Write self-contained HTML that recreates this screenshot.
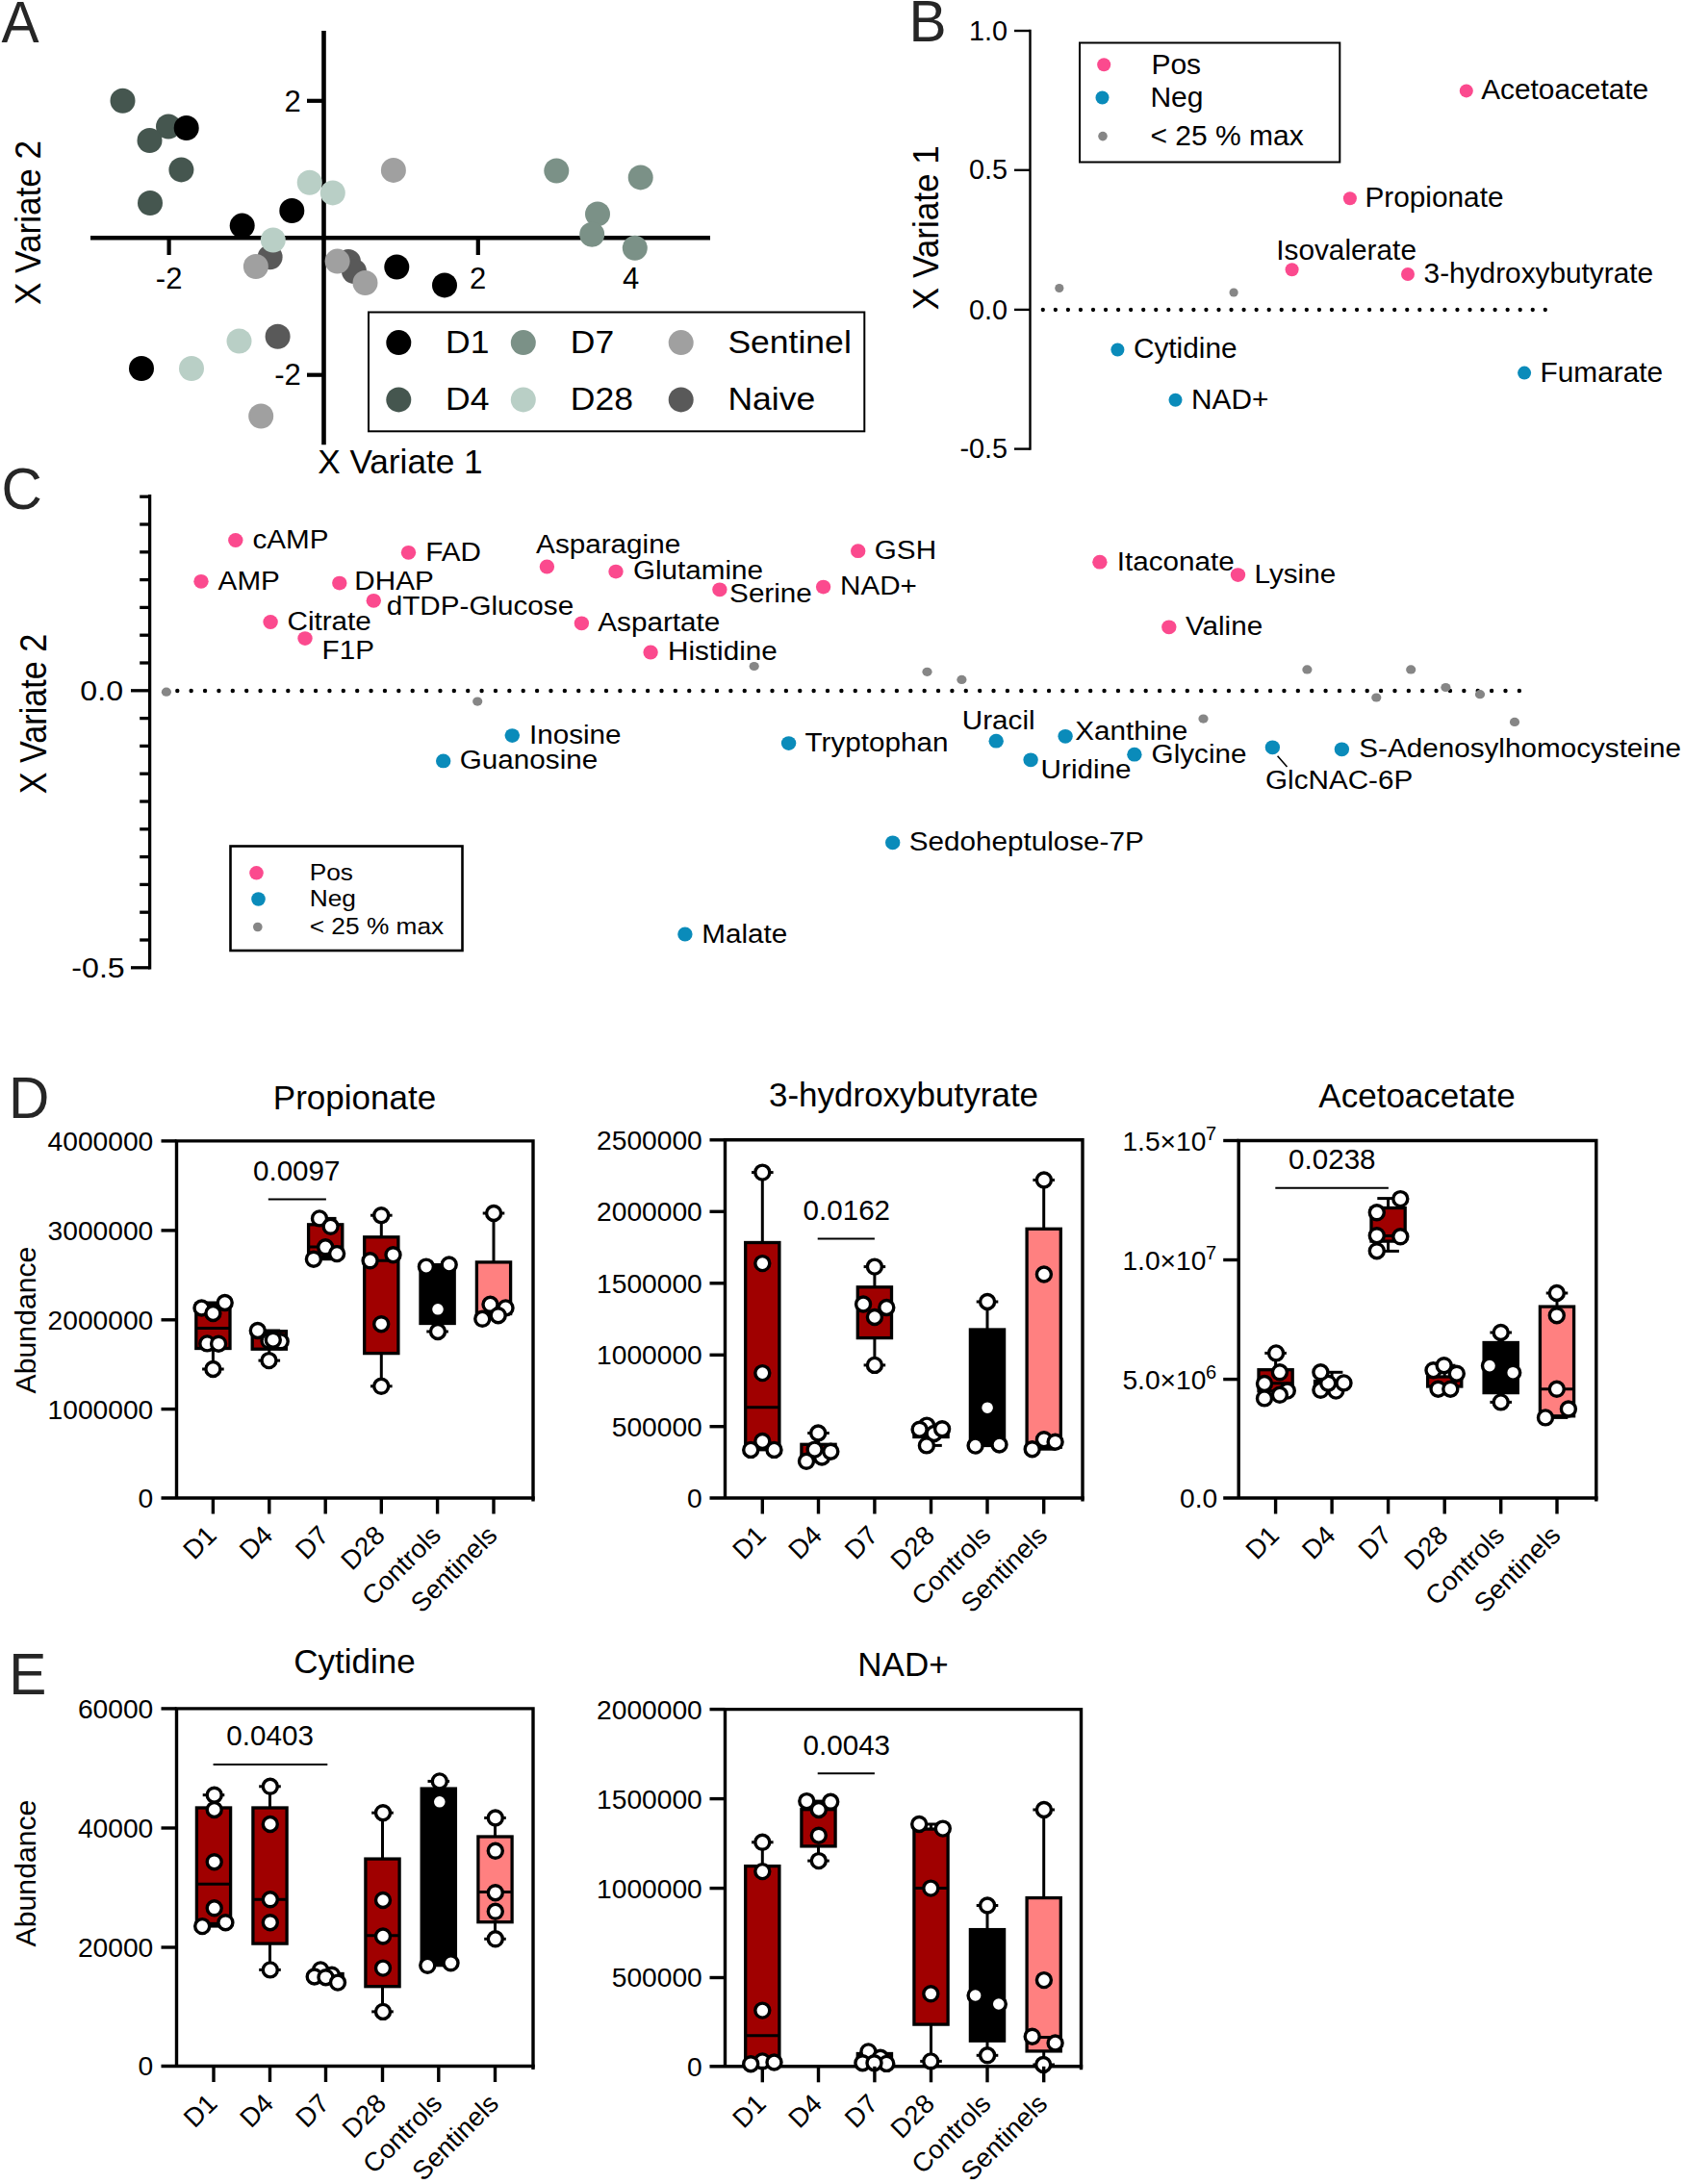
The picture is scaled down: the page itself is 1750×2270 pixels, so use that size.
<!DOCTYPE html>
<html lang="en">
<head>
<meta charset="utf-8">
<title>Figure</title>
<style>
html,body{margin:0;padding:0;background:#fff;}
body{width:1750px;height:2270px;overflow:hidden;}
svg{display:block;}
svg text{font-family:"Liberation Sans", Arial, sans-serif;}
</style>
</head>
<body>
<svg width="1750" height="2270" viewBox="0 0 1750 2270">
<rect x="0" y="0" width="1750" height="2270" fill="#ffffff"/>
<text transform="translate(1.4,43.5) scale(0.956,1)" font-size="61.3" text-anchor="start" fill="#262626">A</text>
<text transform="translate(944.6,43.4) scale(0.956,1)" font-size="61.3" text-anchor="start" fill="#262626">B</text>
<text transform="translate(1.4,528.6) scale(0.956,1)" font-size="61.3" text-anchor="start" fill="#262626">C</text>
<text transform="translate(9.0,1162.2) scale(0.956,1)" font-size="61.3" text-anchor="start" fill="#262626">D</text>
<text transform="translate(9.3,1761.3) scale(0.956,1)" font-size="61.3" text-anchor="start" fill="#262626">E</text>
<line x1="94.0" y1="247.2" x2="738.0" y2="247.2" stroke="#000" stroke-width="4.6" />
<line x1="336.5" y1="32.0" x2="336.5" y2="462.3" stroke="#000" stroke-width="4.6" />
<line x1="175.6" y1="247.2" x2="175.6" y2="265.0" stroke="#000" stroke-width="4.2" />
<line x1="496.8" y1="247.2" x2="496.8" y2="265.0" stroke="#000" stroke-width="4.2" />
<line x1="658.3" y1="247.2" x2="658.3" y2="265.0" stroke="#000" stroke-width="4.2" />
<line x1="319.0" y1="104.8" x2="336.5" y2="104.8" stroke="#000" stroke-width="4.2" />
<line x1="319.0" y1="389.7" x2="336.5" y2="389.7" stroke="#000" stroke-width="4.2" />
<text transform="translate(175.6,299.5)" font-size="31" text-anchor="middle" fill="#000">-2</text>
<text transform="translate(496.5,299.5)" font-size="31" text-anchor="middle" fill="#000">2</text>
<text transform="translate(655.5,299.5)" font-size="31" text-anchor="middle" fill="#000">4</text>
<text transform="translate(312.8,115.6)" font-size="31" text-anchor="end" fill="#000">2</text>
<text transform="translate(312.8,400.3)" font-size="31" text-anchor="end" fill="#000">-2</text>
<text transform="translate(330.2,492.2)" font-size="35.2" text-anchor="start" fill="#000">X Variate 1</text>
<text transform="translate(41.7,231.5) rotate(-90) scale(0.95,1)" font-size="37" text-anchor="middle" fill="#000">X Variate 2</text>
<circle cx="127.5" cy="104.8" r="13" fill="#45564f"/>
<circle cx="175.0" cy="131.5" r="13" fill="#45564f"/>
<circle cx="155.5" cy="146.0" r="13" fill="#45564f"/>
<circle cx="188.4" cy="176.4" r="13" fill="#45564f"/>
<circle cx="156.0" cy="211.0" r="13" fill="#45564f"/>
<circle cx="193.7" cy="133.0" r="13" fill="#000000"/>
<circle cx="408.9" cy="176.9" r="13" fill="#a0a0a0"/>
<circle cx="321.7" cy="189.7" r="13" fill="#b9cfc6"/>
<circle cx="345.8" cy="200.4" r="13" fill="#b9cfc6"/>
<circle cx="303.3" cy="219.0" r="13" fill="#000000"/>
<circle cx="251.7" cy="234.6" r="13" fill="#000000"/>
<circle cx="280.6" cy="267.3" r="13" fill="#595959"/>
<circle cx="265.9" cy="277.0" r="13" fill="#a0a0a0"/>
<circle cx="283.8" cy="249.5" r="13" fill="#b9cfc6"/>
<circle cx="362.0" cy="272.0" r="13" fill="#595959"/>
<circle cx="368.0" cy="282.0" r="13" fill="#595959"/>
<circle cx="350.6" cy="271.6" r="13" fill="#a0a0a0"/>
<circle cx="379.5" cy="294.0" r="13" fill="#a0a0a0"/>
<circle cx="412.3" cy="277.5" r="13" fill="#000000"/>
<circle cx="462.0" cy="296.4" r="13" fill="#000000"/>
<circle cx="248.5" cy="354.5" r="13" fill="#b9cfc6"/>
<circle cx="288.6" cy="349.7" r="13" fill="#595959"/>
<circle cx="147.0" cy="383.0" r="13" fill="#000000"/>
<circle cx="199.0" cy="383.0" r="13" fill="#b9cfc6"/>
<circle cx="271.2" cy="432.5" r="13" fill="#a0a0a0"/>
<circle cx="578.3" cy="177.5" r="13" fill="#7b9187"/>
<circle cx="665.7" cy="184.4" r="13" fill="#7b9187"/>
<circle cx="621.0" cy="222.4" r="13" fill="#7b9187"/>
<circle cx="615.2" cy="243.8" r="13" fill="#7b9187"/>
<circle cx="659.8" cy="257.7" r="13" fill="#7b9187"/>
<rect x="383.0" y="324.5" width="515.3" height="123.8" fill="#fff" stroke="#000" stroke-width="2"/>
<circle cx="414.3" cy="356.1" r="13" fill="#000000"/>
<text transform="translate(463.0,367.1) scale(1.045,1)" font-size="34" text-anchor="start" fill="#000">D1</text>
<circle cx="543.8" cy="356.1" r="13" fill="#7b9187"/>
<text transform="translate(592.8,367.1) scale(1.045,1)" font-size="34" text-anchor="start" fill="#000">D7</text>
<circle cx="707.7" cy="356.1" r="13" fill="#a0a0a0"/>
<text transform="translate(756.4,367.1) scale(1.045,1)" font-size="34" text-anchor="start" fill="#000">Sentinel</text>
<circle cx="414.3" cy="415.4" r="13" fill="#45564f"/>
<text transform="translate(463.0,426.4) scale(1.045,1)" font-size="34" text-anchor="start" fill="#000">D4</text>
<circle cx="543.8" cy="415.4" r="13" fill="#b9cfc6"/>
<text transform="translate(592.8,426.4) scale(1.045,1)" font-size="34" text-anchor="start" fill="#000">D28</text>
<circle cx="707.7" cy="415.4" r="13" fill="#595959"/>
<text transform="translate(756.4,426.4) scale(1.045,1)" font-size="34" text-anchor="start" fill="#000">Naive</text>
<line x1="1070.5" y1="30.8" x2="1070.5" y2="467.8" stroke="#000" stroke-width="2.4" />
<line x1="1054.0" y1="32.0" x2="1070.5" y2="32.0" stroke="#000" stroke-width="2.4" />
<text transform="translate(1047.0,41.6)" font-size="28.8" text-anchor="end" fill="#000">1.0</text>
<line x1="1054.0" y1="176.8" x2="1070.5" y2="176.8" stroke="#000" stroke-width="2.4" />
<text transform="translate(1047.0,186.4)" font-size="28.8" text-anchor="end" fill="#000">0.5</text>
<line x1="1054.0" y1="321.9" x2="1070.5" y2="321.9" stroke="#000" stroke-width="2.4" />
<text transform="translate(1047.0,331.5)" font-size="28.8" text-anchor="end" fill="#000">0.0</text>
<line x1="1054.0" y1="466.6" x2="1070.5" y2="466.6" stroke="#000" stroke-width="2.4" />
<text transform="translate(1047.0,476.2)" font-size="28.8" text-anchor="end" fill="#000">-0.5</text>
<text transform="translate(974.7,236.7) rotate(-90) scale(0.96,1)" font-size="36.6" text-anchor="middle" fill="#000">X Variate 1</text>
<line x1="1083.8" y1="322.0" x2="1609.0" y2="322.0" stroke="#000" stroke-width="4.3" stroke-dasharray="0 13.05" stroke-linecap="round"/>
<rect x="1122.0" y="44.5" width="270.3" height="124.0" fill="none" stroke="#000" stroke-width="2"/>
<circle cx="1147.2" cy="67.3" r="7" fill="#fb4a8e"/>
<text transform="translate(1196.4,76.5) scale(1.025,1)" font-size="29.3" text-anchor="start" fill="#000">Pos</text>
<circle cx="1145.5" cy="101.5" r="7" fill="#0a8bba"/>
<text transform="translate(1195.4,110.7) scale(1.025,1)" font-size="29.3" text-anchor="start" fill="#000">Neg</text>
<circle cx="1146.0" cy="141.6" r="4.8" fill="#868686"/>
<text transform="translate(1195.4,150.8) scale(1.025,1)" font-size="29.3" text-anchor="start" fill="#000">&lt; 25 % max</text>
<circle cx="1100.8" cy="299.5" r="4.6" fill="#868686"/>
<circle cx="1282.1" cy="304.0" r="4.6" fill="#868686"/>
<circle cx="1523.8" cy="94.4" r="7" fill="#fb4a8e"/>
<text transform="translate(1539.2,103.4)" font-size="29.8" text-anchor="start" fill="#000">Acetoacetate</text>
<circle cx="1402.9" cy="206.3" r="7" fill="#fb4a8e"/>
<text transform="translate(1418.4,215.1)" font-size="29.8" text-anchor="start" fill="#000">Propionate</text>
<circle cx="1342.6" cy="280.2" r="7" fill="#fb4a8e"/>
<text transform="translate(1326.2,270.0)" font-size="29.8" text-anchor="start" fill="#000">Isovalerate</text>
<circle cx="1463.0" cy="285.0" r="7" fill="#fb4a8e"/>
<text transform="translate(1479.6,293.5)" font-size="29.8" text-anchor="start" fill="#000">3-hydroxybutyrate</text>
<circle cx="1161.4" cy="363.5" r="7" fill="#0a8bba"/>
<text transform="translate(1177.9,372.4)" font-size="29.8" text-anchor="start" fill="#000">Cytidine</text>
<circle cx="1221.5" cy="415.7" r="7" fill="#0a8bba"/>
<text transform="translate(1238.0,425.0)" font-size="29.8" text-anchor="start" fill="#000">NAD+</text>
<circle cx="1584.1" cy="387.6" r="7" fill="#0a8bba"/>
<text transform="translate(1600.6,397.0)" font-size="29.8" text-anchor="start" fill="#000">Fumarate</text>
<line x1="155.6" y1="514.0" x2="155.6" y2="1007.4" stroke="#000" stroke-width="3.3" />
<line x1="145.2" y1="516.2" x2="155.6" y2="516.2" stroke="#000" stroke-width="3.3" />
<line x1="145.2" y1="545.0" x2="155.6" y2="545.0" stroke="#000" stroke-width="3.3" />
<line x1="145.2" y1="573.8" x2="155.6" y2="573.8" stroke="#000" stroke-width="3.3" />
<line x1="145.2" y1="602.6" x2="155.6" y2="602.6" stroke="#000" stroke-width="3.3" />
<line x1="145.2" y1="631.4" x2="155.6" y2="631.4" stroke="#000" stroke-width="3.3" />
<line x1="145.2" y1="660.2" x2="155.6" y2="660.2" stroke="#000" stroke-width="3.3" />
<line x1="145.2" y1="689.0" x2="155.6" y2="689.0" stroke="#000" stroke-width="3.3" />
<line x1="136.0" y1="717.8" x2="155.6" y2="717.8" stroke="#000" stroke-width="3.3" />
<line x1="145.2" y1="746.6" x2="155.6" y2="746.6" stroke="#000" stroke-width="3.3" />
<line x1="145.2" y1="775.4" x2="155.6" y2="775.4" stroke="#000" stroke-width="3.3" />
<line x1="145.2" y1="804.2" x2="155.6" y2="804.2" stroke="#000" stroke-width="3.3" />
<line x1="145.2" y1="833.0" x2="155.6" y2="833.0" stroke="#000" stroke-width="3.3" />
<line x1="145.2" y1="861.8" x2="155.6" y2="861.8" stroke="#000" stroke-width="3.3" />
<line x1="145.2" y1="890.6" x2="155.6" y2="890.6" stroke="#000" stroke-width="3.3" />
<line x1="145.2" y1="919.4" x2="155.6" y2="919.4" stroke="#000" stroke-width="3.3" />
<line x1="145.2" y1="948.2" x2="155.6" y2="948.2" stroke="#000" stroke-width="3.3" />
<line x1="145.2" y1="977.0" x2="155.6" y2="977.0" stroke="#000" stroke-width="3.3" />
<line x1="136.0" y1="1005.8" x2="155.6" y2="1005.8" stroke="#000" stroke-width="3.3" />
<text transform="translate(128.0,728.1) scale(1.06,1)" font-size="30.3" text-anchor="end" fill="#000">0.0</text>
<text transform="translate(129.7,1015.8) scale(1.06,1)" font-size="30.3" text-anchor="end" fill="#000">-0.5</text>
<text transform="translate(47.5,742.0) rotate(-90) scale(0.9,1)" font-size="38" text-anchor="middle" fill="#000">X Variate 2</text>
<line x1="184.3" y1="718.0" x2="1582.0" y2="718.0" stroke="#000" stroke-width="4.4" stroke-dasharray="0 14.377" stroke-linecap="round"/>
<rect x="239.5" y="879.5" width="241.0" height="108.5" fill="none" stroke="#000" stroke-width="2.6"/>
<circle cx="266.5" cy="907.3" r="7.3" fill="#fb4a8e"/>
<text transform="translate(321.7,914.9) scale(1.06,1)" font-size="24.8" text-anchor="start" fill="#000">Pos</text>
<circle cx="268.5" cy="934.5" r="7.3" fill="#0a8bba"/>
<text transform="translate(321.7,941.6) scale(1.06,1)" font-size="24.8" text-anchor="start" fill="#000">Neg</text>
<circle cx="267.8" cy="963.5" r="4.8" fill="#868686"/>
<text transform="translate(321.7,971.0) scale(1.06,1)" font-size="24.8" text-anchor="start" fill="#000">&lt; 25 % max</text>
<ellipse cx="172.9" cy="719.2" rx="5.1" ry="4.6" fill="#868686"/>
<ellipse cx="496.2" cy="729.1" rx="5.1" ry="4.6" fill="#868686"/>
<ellipse cx="783.7" cy="692.5" rx="5.1" ry="4.6" fill="#868686"/>
<ellipse cx="963.5" cy="698.3" rx="5.1" ry="4.6" fill="#868686"/>
<ellipse cx="999.4" cy="706.4" rx="5.1" ry="4.6" fill="#868686"/>
<ellipse cx="1250.5" cy="747.1" rx="5.1" ry="4.6" fill="#868686"/>
<ellipse cx="1358.4" cy="695.9" rx="5.1" ry="4.6" fill="#868686"/>
<ellipse cx="1466.2" cy="695.9" rx="5.1" ry="4.6" fill="#868686"/>
<ellipse cx="1502.4" cy="714.5" rx="5.1" ry="4.6" fill="#868686"/>
<ellipse cx="1430.3" cy="725.0" rx="5.1" ry="4.6" fill="#868686"/>
<ellipse cx="1538.0" cy="721.7" rx="5.1" ry="4.6" fill="#868686"/>
<ellipse cx="1574.0" cy="750.4" rx="5.1" ry="4.6" fill="#868686"/>
<ellipse cx="244.8" cy="561.5" rx="7.7" ry="7.4" fill="#fb4a8e"/>
<text transform="translate(262.4,570.3) scale(1.075,1)" font-size="27.6" text-anchor="start" fill="#000">cAMP</text>
<ellipse cx="209.0" cy="604.3" rx="7.7" ry="7.4" fill="#fb4a8e"/>
<text transform="translate(226.6,612.8) scale(1.075,1)" font-size="27.6" text-anchor="start" fill="#000">AMP</text>
<ellipse cx="352.8" cy="606.1" rx="7.7" ry="7.4" fill="#fb4a8e"/>
<text transform="translate(368.3,613.1) scale(1.075,1)" font-size="27.6" text-anchor="start" fill="#000">DHAP</text>
<ellipse cx="424.5" cy="574.3" rx="7.7" ry="7.4" fill="#fb4a8e"/>
<text transform="translate(442.2,582.9) scale(1.075,1)" font-size="27.6" text-anchor="start" fill="#000">FAD</text>
<ellipse cx="388.3" cy="624.3" rx="7.7" ry="7.4" fill="#fb4a8e"/>
<text transform="translate(401.7,639.3) scale(1.075,1)" font-size="27.6" text-anchor="start" fill="#000">dTDP-Glucose</text>
<ellipse cx="281.1" cy="646.5" rx="7.7" ry="7.4" fill="#fb4a8e"/>
<text transform="translate(298.5,654.5) scale(1.075,1)" font-size="27.6" text-anchor="start" fill="#000">Citrate</text>
<ellipse cx="317.0" cy="663.6" rx="7.7" ry="7.4" fill="#fb4a8e"/>
<text transform="translate(334.6,685.2) scale(1.075,1)" font-size="27.6" text-anchor="start" fill="#000">F1P</text>
<ellipse cx="568.4" cy="589.0" rx="7.7" ry="7.4" fill="#fb4a8e"/>
<text transform="translate(557.1,574.9) scale(1.075,1)" font-size="27.6" text-anchor="start" fill="#000">Asparagine</text>
<ellipse cx="640.0" cy="594.1" rx="7.7" ry="7.4" fill="#fb4a8e"/>
<text transform="translate(657.9,602.4) scale(1.075,1)" font-size="27.6" text-anchor="start" fill="#000">Glutamine</text>
<ellipse cx="747.9" cy="612.8" rx="7.7" ry="7.4" fill="#fb4a8e"/>
<text transform="translate(758.1,625.6) scale(1.075,1)" font-size="27.6" text-anchor="start" fill="#000">Serine</text>
<ellipse cx="604.4" cy="647.8" rx="7.7" ry="7.4" fill="#fb4a8e"/>
<text transform="translate(621.3,656.4) scale(1.075,1)" font-size="27.6" text-anchor="start" fill="#000">Aspartate</text>
<ellipse cx="676.1" cy="678.0" rx="7.7" ry="7.4" fill="#fb4a8e"/>
<text transform="translate(694.0,686.3) scale(1.075,1)" font-size="27.6" text-anchor="start" fill="#000">Histidine</text>
<ellipse cx="891.7" cy="572.7" rx="7.7" ry="7.4" fill="#fb4a8e"/>
<text transform="translate(908.8,581.0) scale(1.075,1)" font-size="27.6" text-anchor="start" fill="#000">GSH</text>
<ellipse cx="855.6" cy="610.1" rx="7.7" ry="7.4" fill="#fb4a8e"/>
<text transform="translate(873.0,618.4) scale(1.075,1)" font-size="27.6" text-anchor="start" fill="#000">NAD+</text>
<ellipse cx="1142.9" cy="584.2" rx="7.7" ry="7.4" fill="#fb4a8e"/>
<text transform="translate(1160.8,592.8) scale(1.075,1)" font-size="27.6" text-anchor="start" fill="#000">Itaconate</text>
<ellipse cx="1286.5" cy="597.6" rx="7.7" ry="7.4" fill="#fb4a8e"/>
<text transform="translate(1303.5,606.4) scale(1.075,1)" font-size="27.6" text-anchor="start" fill="#000">Lysine</text>
<ellipse cx="1214.8" cy="651.8" rx="7.7" ry="7.4" fill="#fb4a8e"/>
<text transform="translate(1231.9,660.3) scale(1.075,1)" font-size="27.6" text-anchor="start" fill="#000">Valine</text>
<ellipse cx="532.3" cy="764.6" rx="7.7" ry="7.4" fill="#0a8bba"/>
<text transform="translate(549.9,773.4) scale(1.075,1)" font-size="27.6" text-anchor="start" fill="#000">Inosine</text>
<ellipse cx="460.7" cy="790.9" rx="7.7" ry="7.4" fill="#0a8bba"/>
<text transform="translate(477.8,798.9) scale(1.075,1)" font-size="27.6" text-anchor="start" fill="#000">Guanosine</text>
<ellipse cx="819.6" cy="772.6" rx="7.7" ry="7.4" fill="#0a8bba"/>
<text transform="translate(836.6,781.3) scale(1.075,1)" font-size="27.6" text-anchor="start" fill="#000">Tryptophan</text>
<ellipse cx="1035.2" cy="770.2" rx="7.7" ry="7.4" fill="#0a8bba"/>
<text transform="translate(999.8,758.3) scale(1.075,1)" font-size="27.6" text-anchor="start" fill="#000">Uracil</text>
<ellipse cx="1107.1" cy="765.3" rx="7.7" ry="7.4" fill="#0a8bba"/>
<text transform="translate(1117.2,769.2) scale(1.075,1)" font-size="27.6" text-anchor="start" fill="#000">Xanthine</text>
<ellipse cx="1071.1" cy="789.8" rx="7.7" ry="7.4" fill="#0a8bba"/>
<text transform="translate(1081.6,809.4) scale(1.075,1)" font-size="27.6" text-anchor="start" fill="#000">Uridine</text>
<ellipse cx="1178.9" cy="784.2" rx="7.7" ry="7.4" fill="#0a8bba"/>
<text transform="translate(1196.6,792.7) scale(1.075,1)" font-size="27.6" text-anchor="start" fill="#000">Glycine</text>
<ellipse cx="1322.4" cy="776.8" rx="7.7" ry="7.4" fill="#0a8bba"/>
<text transform="translate(1315.0,819.7) scale(1.075,1)" font-size="27.6" text-anchor="start" fill="#000">GlcNAC-6P</text>
<ellipse cx="1394.4" cy="778.8" rx="7.7" ry="7.4" fill="#0a8bba"/>
<text transform="translate(1412.3,787.0) scale(1.075,1)" font-size="27.6" text-anchor="start" fill="#000">S-Adenosylhomocysteine</text>
<ellipse cx="927.7" cy="875.8" rx="7.7" ry="7.4" fill="#0a8bba"/>
<text transform="translate(944.7,884.2) scale(1.075,1)" font-size="27.6" text-anchor="start" fill="#000">Sedoheptulose-7P</text>
<ellipse cx="711.9" cy="971.0" rx="7.7" ry="7.4" fill="#0a8bba"/>
<text transform="translate(729.2,979.9) scale(1.075,1)" font-size="27.6" text-anchor="start" fill="#000">Malate</text>
<line x1="1327.6" y1="785.8" x2="1337.5" y2="797.0" stroke="#000" stroke-width="1.6" />
<text transform="translate(37.0,1372.0) rotate(-90)" font-size="30.2" text-anchor="middle" fill="#000">Abundance</text>
<text transform="translate(368.5,1152.6)" font-size="35.0" text-anchor="middle" fill="#000">Propionate</text>
<path d="M183.5,1557.0 V1185.9 H554.0 V1560.5" fill="none" stroke="#000" stroke-width="3.4" stroke-linejoin="miter"/>
<line x1="167.5" y1="1557.0" x2="555.7" y2="1557.0" stroke="#000" stroke-width="3.4" />
<line x1="221.4" y1="1354.0" x2="221.4" y2="1355.1" stroke="#000" stroke-width="3.0" />
<line x1="210.1" y1="1354.0" x2="232.7" y2="1354.0" stroke="#000" stroke-width="3.0" />
<line x1="221.4" y1="1401.5" x2="221.4" y2="1423.0" stroke="#000" stroke-width="3.0" />
<line x1="210.1" y1="1423.0" x2="232.7" y2="1423.0" stroke="#000" stroke-width="3.0" />
<rect x="203.8" y="1355.1" width="35.2" height="46.4" fill="#a00000" stroke="#000" stroke-width="3.3"/>
<line x1="203.8" y1="1380.4" x2="239.0" y2="1380.4" stroke="#000" stroke-width="3.0" />
<line x1="279.8" y1="1383.0" x2="279.8" y2="1383.7" stroke="#000" stroke-width="3.0" />
<line x1="268.5" y1="1383.0" x2="291.1" y2="1383.0" stroke="#000" stroke-width="3.0" />
<line x1="279.8" y1="1402.2" x2="279.8" y2="1414.1" stroke="#000" stroke-width="3.0" />
<line x1="268.5" y1="1414.1" x2="291.1" y2="1414.1" stroke="#000" stroke-width="3.0" />
<rect x="262.2" y="1383.7" width="35.2" height="18.5" fill="#a00000" stroke="#000" stroke-width="3.3"/>
<line x1="338.2" y1="1266.4" x2="338.2" y2="1272.8" stroke="#000" stroke-width="3.0" />
<line x1="326.9" y1="1266.4" x2="349.5" y2="1266.4" stroke="#000" stroke-width="3.0" />
<line x1="338.2" y1="1306.6" x2="338.2" y2="1308.7" stroke="#000" stroke-width="3.0" />
<line x1="326.9" y1="1308.7" x2="349.5" y2="1308.7" stroke="#000" stroke-width="3.0" />
<rect x="320.6" y="1272.8" width="35.2" height="33.8" fill="#a00000" stroke="#000" stroke-width="3.3"/>
<line x1="320.6" y1="1296.0" x2="355.8" y2="1296.0" stroke="#000" stroke-width="3.0" />
<line x1="396.3" y1="1263.2" x2="396.3" y2="1285.8" stroke="#000" stroke-width="3.0" />
<line x1="385.0" y1="1263.2" x2="407.6" y2="1263.2" stroke="#000" stroke-width="3.0" />
<line x1="396.3" y1="1406.6" x2="396.3" y2="1440.8" stroke="#000" stroke-width="3.0" />
<line x1="385.0" y1="1440.8" x2="407.6" y2="1440.8" stroke="#000" stroke-width="3.0" />
<rect x="378.7" y="1285.8" width="35.2" height="120.8" fill="#a00000" stroke="#000" stroke-width="3.3"/>
<line x1="378.7" y1="1310.3" x2="413.9" y2="1310.3" stroke="#000" stroke-width="3.0" />
<line x1="454.6" y1="1314.5" x2="454.6" y2="1315.5" stroke="#000" stroke-width="3.0" />
<line x1="443.3" y1="1314.5" x2="465.9" y2="1314.5" stroke="#000" stroke-width="3.0" />
<line x1="454.6" y1="1375.5" x2="454.6" y2="1384.0" stroke="#000" stroke-width="3.0" />
<line x1="443.3" y1="1384.0" x2="465.9" y2="1384.0" stroke="#000" stroke-width="3.0" />
<rect x="437.0" y="1315.5" width="35.2" height="60.0" fill="#000000" stroke="#000" stroke-width="3.3"/>
<line x1="513.0" y1="1261.0" x2="513.0" y2="1311.9" stroke="#000" stroke-width="3.0" />
<line x1="501.7" y1="1261.0" x2="524.3" y2="1261.0" stroke="#000" stroke-width="3.0" />
<line x1="513.0" y1="1365.5" x2="513.0" y2="1370.8" stroke="#000" stroke-width="3.0" />
<line x1="501.7" y1="1370.8" x2="524.3" y2="1370.8" stroke="#000" stroke-width="3.0" />
<rect x="495.4" y="1311.9" width="35.2" height="53.6" fill="#ff8080" stroke="#000" stroke-width="3.3"/>
<circle cx="209.5" cy="1359.5" r="7.5" fill="#fff" stroke="#000" stroke-width="3.4"/>
<circle cx="233.7" cy="1354.0" r="7.5" fill="#fff" stroke="#000" stroke-width="3.4"/>
<circle cx="221.4" cy="1365.0" r="7.5" fill="#fff" stroke="#000" stroke-width="3.4"/>
<circle cx="215.3" cy="1396.4" r="7.5" fill="#fff" stroke="#000" stroke-width="3.4"/>
<circle cx="227.1" cy="1396.7" r="7.5" fill="#fff" stroke="#000" stroke-width="3.4"/>
<circle cx="221.4" cy="1423.0" r="7.5" fill="#fff" stroke="#000" stroke-width="3.4"/>
<circle cx="267.8" cy="1383.0" r="7.5" fill="#fff" stroke="#000" stroke-width="3.4"/>
<circle cx="279.5" cy="1393.6" r="7.5" fill="#fff" stroke="#000" stroke-width="3.4"/>
<circle cx="291.7" cy="1394.3" r="7.5" fill="#fff" stroke="#000" stroke-width="3.4"/>
<circle cx="283.8" cy="1392.7" r="7.5" fill="#fff" stroke="#000" stroke-width="3.4"/>
<circle cx="279.5" cy="1414.1" r="7.5" fill="#fff" stroke="#000" stroke-width="3.4"/>
<circle cx="332.0" cy="1266.4" r="7.5" fill="#fff" stroke="#000" stroke-width="3.4"/>
<circle cx="343.6" cy="1274.8" r="7.5" fill="#fff" stroke="#000" stroke-width="3.4"/>
<circle cx="338.2" cy="1296.3" r="7.5" fill="#fff" stroke="#000" stroke-width="3.4"/>
<circle cx="325.9" cy="1308.7" r="7.5" fill="#fff" stroke="#000" stroke-width="3.4"/>
<circle cx="350.1" cy="1303.1" r="7.5" fill="#fff" stroke="#000" stroke-width="3.4"/>
<circle cx="396.2" cy="1263.2" r="7.5" fill="#fff" stroke="#000" stroke-width="3.4"/>
<circle cx="384.6" cy="1310.3" r="7.5" fill="#fff" stroke="#000" stroke-width="3.4"/>
<circle cx="408.5" cy="1304.2" r="7.5" fill="#fff" stroke="#000" stroke-width="3.4"/>
<circle cx="396.2" cy="1376.2" r="7.5" fill="#fff" stroke="#000" stroke-width="3.4"/>
<circle cx="396.2" cy="1440.8" r="7.5" fill="#fff" stroke="#000" stroke-width="3.4"/>
<circle cx="442.9" cy="1316.6" r="7.5" fill="#fff" stroke="#000" stroke-width="3.4"/>
<circle cx="466.7" cy="1314.5" r="7.5" fill="#fff" stroke="#000" stroke-width="3.4"/>
<circle cx="455.0" cy="1360.8" r="7.5" fill="#fff" stroke="#000" stroke-width="3.4"/>
<circle cx="455.0" cy="1384.0" r="7.5" fill="#fff" stroke="#000" stroke-width="3.4"/>
<circle cx="513.1" cy="1261.0" r="7.5" fill="#fff" stroke="#000" stroke-width="3.4"/>
<circle cx="509.5" cy="1355.8" r="7.5" fill="#fff" stroke="#000" stroke-width="3.4"/>
<circle cx="525.5" cy="1359.4" r="7.5" fill="#fff" stroke="#000" stroke-width="3.4"/>
<circle cx="501.3" cy="1370.8" r="7.5" fill="#fff" stroke="#000" stroke-width="3.4"/>
<circle cx="517.7" cy="1367.2" r="7.5" fill="#fff" stroke="#000" stroke-width="3.4"/>
<line x1="167.5" y1="1185.9" x2="183.5" y2="1185.9" stroke="#000" stroke-width="3.4" />
<text transform="translate(159.3,1195.8)" font-size="28.2" text-anchor="end" fill="#000">4000000</text>
<line x1="167.5" y1="1278.9" x2="183.5" y2="1278.9" stroke="#000" stroke-width="3.4" />
<text transform="translate(159.3,1288.8)" font-size="28.2" text-anchor="end" fill="#000">3000000</text>
<line x1="167.5" y1="1371.8" x2="183.5" y2="1371.8" stroke="#000" stroke-width="3.4" />
<text transform="translate(159.3,1381.7)" font-size="28.2" text-anchor="end" fill="#000">2000000</text>
<line x1="167.5" y1="1464.6" x2="183.5" y2="1464.6" stroke="#000" stroke-width="3.4" />
<text transform="translate(159.3,1474.5)" font-size="28.2" text-anchor="end" fill="#000">1000000</text>
<text transform="translate(159.3,1566.9)" font-size="28.2" text-anchor="end" fill="#000">0</text>
<line x1="221.4" y1="1557.0" x2="221.4" y2="1573.5" stroke="#000" stroke-width="3.4" />
<text transform="translate(226.6,1597.5) rotate(-45)" font-size="27.5" text-anchor="end" fill="#000">D1</text>
<line x1="279.8" y1="1557.0" x2="279.8" y2="1573.5" stroke="#000" stroke-width="3.4" />
<text transform="translate(285.0,1597.5) rotate(-45)" font-size="27.5" text-anchor="end" fill="#000">D4</text>
<line x1="338.2" y1="1557.0" x2="338.2" y2="1573.5" stroke="#000" stroke-width="3.4" />
<text transform="translate(343.4,1597.5) rotate(-45)" font-size="27.5" text-anchor="end" fill="#000">D7</text>
<line x1="396.3" y1="1557.0" x2="396.3" y2="1573.5" stroke="#000" stroke-width="3.4" />
<text transform="translate(401.5,1597.5) rotate(-45)" font-size="27.5" text-anchor="end" fill="#000">D28</text>
<line x1="454.6" y1="1557.0" x2="454.6" y2="1573.5" stroke="#000" stroke-width="3.4" />
<text transform="translate(459.8,1597.5) rotate(-45)" font-size="27.5" text-anchor="end" fill="#000">Controls</text>
<line x1="513.0" y1="1557.0" x2="513.0" y2="1573.5" stroke="#000" stroke-width="3.4" />
<text transform="translate(518.2,1597.5) rotate(-45)" font-size="27.5" text-anchor="end" fill="#000">Sentinels</text>
<text transform="translate(308.2,1227.4)" font-size="29.6" text-anchor="middle" fill="#000">0.0097</text>
<line x1="278.8" y1="1246.6" x2="338.9" y2="1246.6" stroke="#000" stroke-width="2.0" />
<text transform="translate(939.0,1150.0)" font-size="35.0" text-anchor="middle" fill="#000">3-hydroxybutyrate</text>
<path d="M753.5,1557.0 V1184.8 H1125.0 V1560.5" fill="none" stroke="#000" stroke-width="3.4" stroke-linejoin="miter"/>
<line x1="737.5" y1="1557.0" x2="1126.7" y2="1557.0" stroke="#000" stroke-width="3.4" />
<line x1="792.3" y1="1218.6" x2="792.3" y2="1291.5" stroke="#000" stroke-width="3.0" />
<line x1="781.0" y1="1218.6" x2="803.6" y2="1218.6" stroke="#000" stroke-width="3.0" />
<line x1="792.3" y1="1501.0" x2="792.3" y2="1506.9" stroke="#000" stroke-width="3.0" />
<line x1="781.0" y1="1506.9" x2="803.6" y2="1506.9" stroke="#000" stroke-width="3.0" />
<rect x="774.7" y="1291.5" width="35.2" height="209.5" fill="#a00000" stroke="#000" stroke-width="3.3"/>
<line x1="774.7" y1="1462.8" x2="809.9" y2="1462.8" stroke="#000" stroke-width="3.0" />
<line x1="850.5" y1="1489.5" x2="850.5" y2="1501.3" stroke="#000" stroke-width="3.0" />
<line x1="839.2" y1="1489.5" x2="861.8" y2="1489.5" stroke="#000" stroke-width="3.0" />
<line x1="850.5" y1="1513.2" x2="850.5" y2="1518.6" stroke="#000" stroke-width="3.0" />
<line x1="839.2" y1="1518.6" x2="861.8" y2="1518.6" stroke="#000" stroke-width="3.0" />
<rect x="832.9" y="1501.3" width="35.2" height="11.9" fill="#a00000" stroke="#000" stroke-width="3.3"/>
<line x1="908.9" y1="1316.6" x2="908.9" y2="1337.8" stroke="#000" stroke-width="3.0" />
<line x1="897.6" y1="1316.6" x2="920.2" y2="1316.6" stroke="#000" stroke-width="3.0" />
<line x1="908.9" y1="1390.6" x2="908.9" y2="1418.9" stroke="#000" stroke-width="3.0" />
<line x1="897.6" y1="1418.9" x2="920.2" y2="1418.9" stroke="#000" stroke-width="3.0" />
<rect x="891.3" y="1337.8" width="35.2" height="52.8" fill="#a00000" stroke="#000" stroke-width="3.3"/>
<line x1="967.5" y1="1481.6" x2="967.5" y2="1486.0" stroke="#000" stroke-width="3.0" />
<line x1="956.2" y1="1481.6" x2="978.8" y2="1481.6" stroke="#000" stroke-width="3.0" />
<line x1="967.5" y1="1493.5" x2="967.5" y2="1502.4" stroke="#000" stroke-width="3.0" />
<line x1="956.2" y1="1502.4" x2="978.8" y2="1502.4" stroke="#000" stroke-width="3.0" />
<rect x="949.9" y="1486.0" width="35.2" height="7.5" fill="#a00000" stroke="#000" stroke-width="3.3"/>
<line x1="1026.0" y1="1353.0" x2="1026.0" y2="1382.0" stroke="#000" stroke-width="3.0" />
<line x1="1014.7" y1="1353.0" x2="1037.3" y2="1353.0" stroke="#000" stroke-width="3.0" />
<line x1="1026.0" y1="1501.0" x2="1026.0" y2="1502.6" stroke="#000" stroke-width="3.0" />
<line x1="1014.7" y1="1502.6" x2="1037.3" y2="1502.6" stroke="#000" stroke-width="3.0" />
<rect x="1008.4" y="1382.0" width="35.2" height="119.0" fill="#000000" stroke="#000" stroke-width="3.3"/>
<line x1="1084.7" y1="1226.5" x2="1084.7" y2="1277.3" stroke="#000" stroke-width="3.0" />
<line x1="1073.4" y1="1226.5" x2="1096.0" y2="1226.5" stroke="#000" stroke-width="3.0" />
<line x1="1084.7" y1="1504.2" x2="1084.7" y2="1506.2" stroke="#000" stroke-width="3.0" />
<line x1="1073.4" y1="1506.2" x2="1096.0" y2="1506.2" stroke="#000" stroke-width="3.0" />
<rect x="1067.1" y="1277.3" width="35.2" height="226.9" fill="#ff8080" stroke="#000" stroke-width="3.3"/>
<circle cx="792.3" cy="1218.6" r="7.5" fill="#fff" stroke="#000" stroke-width="3.4"/>
<circle cx="792.3" cy="1313.1" r="7.5" fill="#fff" stroke="#000" stroke-width="3.4"/>
<circle cx="792.3" cy="1427.1" r="7.5" fill="#fff" stroke="#000" stroke-width="3.4"/>
<circle cx="792.3" cy="1498.0" r="7.5" fill="#fff" stroke="#000" stroke-width="3.4"/>
<circle cx="780.2" cy="1506.9" r="7.5" fill="#fff" stroke="#000" stroke-width="3.4"/>
<circle cx="804.5" cy="1506.9" r="7.5" fill="#fff" stroke="#000" stroke-width="3.4"/>
<circle cx="854.1" cy="1514.5" r="7.5" fill="#fff" stroke="#000" stroke-width="3.4"/>
<circle cx="838.0" cy="1518.8" r="7.5" fill="#fff" stroke="#000" stroke-width="3.4"/>
<circle cx="863.3" cy="1508.7" r="7.5" fill="#fff" stroke="#000" stroke-width="3.4"/>
<circle cx="846.6" cy="1506.6" r="7.5" fill="#fff" stroke="#000" stroke-width="3.4"/>
<circle cx="850.2" cy="1489.5" r="7.5" fill="#fff" stroke="#000" stroke-width="3.4"/>
<circle cx="908.9" cy="1316.6" r="7.5" fill="#fff" stroke="#000" stroke-width="3.4"/>
<circle cx="897.1" cy="1355.5" r="7.5" fill="#fff" stroke="#000" stroke-width="3.4"/>
<circle cx="921.3" cy="1359.0" r="7.5" fill="#fff" stroke="#000" stroke-width="3.4"/>
<circle cx="908.9" cy="1369.0" r="7.5" fill="#fff" stroke="#000" stroke-width="3.4"/>
<circle cx="908.9" cy="1418.9" r="7.5" fill="#fff" stroke="#000" stroke-width="3.4"/>
<circle cx="963.1" cy="1481.6" r="7.5" fill="#fff" stroke="#000" stroke-width="3.4"/>
<circle cx="970.6" cy="1490.0" r="7.5" fill="#fff" stroke="#000" stroke-width="3.4"/>
<circle cx="955.6" cy="1485.7" r="7.5" fill="#fff" stroke="#000" stroke-width="3.4"/>
<circle cx="979.1" cy="1485.2" r="7.5" fill="#fff" stroke="#000" stroke-width="3.4"/>
<circle cx="962.9" cy="1502.4" r="7.5" fill="#fff" stroke="#000" stroke-width="3.4"/>
<circle cx="1026.1" cy="1353.0" r="7.5" fill="#fff" stroke="#000" stroke-width="3.4"/>
<circle cx="1026.1" cy="1463.2" r="7.5" fill="#fff" stroke="#000" stroke-width="3.4"/>
<circle cx="1013.6" cy="1502.6" r="7.5" fill="#fff" stroke="#000" stroke-width="3.4"/>
<circle cx="1038.5" cy="1501.5" r="7.5" fill="#fff" stroke="#000" stroke-width="3.4"/>
<circle cx="1084.9" cy="1226.5" r="7.5" fill="#fff" stroke="#000" stroke-width="3.4"/>
<circle cx="1084.9" cy="1324.5" r="7.5" fill="#fff" stroke="#000" stroke-width="3.4"/>
<circle cx="1072.7" cy="1506.2" r="7.5" fill="#fff" stroke="#000" stroke-width="3.4"/>
<circle cx="1084.9" cy="1496.2" r="7.5" fill="#fff" stroke="#000" stroke-width="3.4"/>
<circle cx="1096.6" cy="1498.7" r="7.5" fill="#fff" stroke="#000" stroke-width="3.4"/>
<line x1="737.5" y1="1184.8" x2="753.5" y2="1184.8" stroke="#000" stroke-width="3.4" />
<text transform="translate(729.8,1194.7)" font-size="28.2" text-anchor="end" fill="#000">2500000</text>
<line x1="737.5" y1="1259.3" x2="753.5" y2="1259.3" stroke="#000" stroke-width="3.4" />
<text transform="translate(729.8,1269.2)" font-size="28.2" text-anchor="end" fill="#000">2000000</text>
<line x1="737.5" y1="1333.8" x2="753.5" y2="1333.8" stroke="#000" stroke-width="3.4" />
<text transform="translate(729.8,1343.7)" font-size="28.2" text-anchor="end" fill="#000">1500000</text>
<line x1="737.5" y1="1408.3" x2="753.5" y2="1408.3" stroke="#000" stroke-width="3.4" />
<text transform="translate(729.8,1418.2)" font-size="28.2" text-anchor="end" fill="#000">1000000</text>
<line x1="737.5" y1="1482.7" x2="753.5" y2="1482.7" stroke="#000" stroke-width="3.4" />
<text transform="translate(729.8,1492.6)" font-size="28.2" text-anchor="end" fill="#000">500000</text>
<text transform="translate(729.8,1566.9)" font-size="28.2" text-anchor="end" fill="#000">0</text>
<line x1="792.3" y1="1557.0" x2="792.3" y2="1573.5" stroke="#000" stroke-width="3.4" />
<text transform="translate(797.5,1597.5) rotate(-45)" font-size="27.5" text-anchor="end" fill="#000">D1</text>
<line x1="850.5" y1="1557.0" x2="850.5" y2="1573.5" stroke="#000" stroke-width="3.4" />
<text transform="translate(855.7,1597.5) rotate(-45)" font-size="27.5" text-anchor="end" fill="#000">D4</text>
<line x1="908.9" y1="1557.0" x2="908.9" y2="1573.5" stroke="#000" stroke-width="3.4" />
<text transform="translate(914.1,1597.5) rotate(-45)" font-size="27.5" text-anchor="end" fill="#000">D7</text>
<line x1="967.5" y1="1557.0" x2="967.5" y2="1573.5" stroke="#000" stroke-width="3.4" />
<text transform="translate(972.7,1597.5) rotate(-45)" font-size="27.5" text-anchor="end" fill="#000">D28</text>
<line x1="1026.0" y1="1557.0" x2="1026.0" y2="1573.5" stroke="#000" stroke-width="3.4" />
<text transform="translate(1031.2,1597.5) rotate(-45)" font-size="27.5" text-anchor="end" fill="#000">Controls</text>
<line x1="1084.7" y1="1557.0" x2="1084.7" y2="1573.5" stroke="#000" stroke-width="3.4" />
<text transform="translate(1089.9,1597.5) rotate(-45)" font-size="27.5" text-anchor="end" fill="#000">Sentinels</text>
<text transform="translate(879.8,1268.4)" font-size="29.6" text-anchor="middle" fill="#000">0.0162</text>
<line x1="849.7" y1="1287.4" x2="908.9" y2="1287.4" stroke="#000" stroke-width="2.0" />
<text transform="translate(1472.5,1150.9)" font-size="35.0" text-anchor="middle" fill="#000">Acetoacetate</text>
<path d="M1287.2,1557.0 V1185.5 H1658.8 V1560.5" fill="none" stroke="#000" stroke-width="3.4" stroke-linejoin="miter"/>
<line x1="1271.2" y1="1557.0" x2="1660.5" y2="1557.0" stroke="#000" stroke-width="3.4" />
<line x1="1325.6" y1="1406.4" x2="1325.6" y2="1423.7" stroke="#000" stroke-width="3.0" />
<line x1="1314.3" y1="1406.4" x2="1336.9" y2="1406.4" stroke="#000" stroke-width="3.0" />
<line x1="1325.6" y1="1445.8" x2="1325.6" y2="1453.4" stroke="#000" stroke-width="3.0" />
<line x1="1314.3" y1="1453.4" x2="1336.9" y2="1453.4" stroke="#000" stroke-width="3.0" />
<rect x="1308.0" y="1423.7" width="35.2" height="22.1" fill="#a00000" stroke="#000" stroke-width="3.3"/>
<line x1="1308.0" y1="1437.8" x2="1343.2" y2="1437.8" stroke="#000" stroke-width="3.0" />
<line x1="1384.1" y1="1426.3" x2="1384.1" y2="1435.5" stroke="#000" stroke-width="3.0" />
<line x1="1372.8" y1="1426.3" x2="1395.4" y2="1426.3" stroke="#000" stroke-width="3.0" />
<line x1="1384.1" y1="1440.5" x2="1384.1" y2="1445.6" stroke="#000" stroke-width="3.0" />
<line x1="1372.8" y1="1445.6" x2="1395.4" y2="1445.6" stroke="#000" stroke-width="3.0" />
<rect x="1366.5" y="1435.5" width="35.2" height="5.0" fill="#a00000" stroke="#000" stroke-width="3.3"/>
<line x1="1442.6" y1="1245.6" x2="1442.6" y2="1255.5" stroke="#000" stroke-width="3.0" />
<line x1="1431.3" y1="1245.6" x2="1453.9" y2="1245.6" stroke="#000" stroke-width="3.0" />
<line x1="1442.6" y1="1290.1" x2="1442.6" y2="1300.4" stroke="#000" stroke-width="3.0" />
<line x1="1431.3" y1="1300.4" x2="1453.9" y2="1300.4" stroke="#000" stroke-width="3.0" />
<rect x="1425.0" y="1255.5" width="35.2" height="34.6" fill="#a00000" stroke="#000" stroke-width="3.3"/>
<line x1="1425.0" y1="1284.5" x2="1460.2" y2="1284.5" stroke="#000" stroke-width="3.0" />
<line x1="1501.2" y1="1419.2" x2="1501.2" y2="1431.0" stroke="#000" stroke-width="3.0" />
<line x1="1489.9" y1="1419.2" x2="1512.5" y2="1419.2" stroke="#000" stroke-width="3.0" />
<line x1="1501.2" y1="1441.0" x2="1501.2" y2="1443.7" stroke="#000" stroke-width="3.0" />
<line x1="1489.9" y1="1443.7" x2="1512.5" y2="1443.7" stroke="#000" stroke-width="3.0" />
<rect x="1483.6" y="1431.0" width="35.2" height="10.0" fill="#a00000" stroke="#000" stroke-width="3.3"/>
<line x1="1559.7" y1="1385.0" x2="1559.7" y2="1395.5" stroke="#000" stroke-width="3.0" />
<line x1="1548.4" y1="1385.0" x2="1571.0" y2="1385.0" stroke="#000" stroke-width="3.0" />
<line x1="1559.7" y1="1447.6" x2="1559.7" y2="1457.4" stroke="#000" stroke-width="3.0" />
<line x1="1548.4" y1="1457.4" x2="1571.0" y2="1457.4" stroke="#000" stroke-width="3.0" />
<rect x="1542.1" y="1395.5" width="35.2" height="52.1" fill="#000000" stroke="#000" stroke-width="3.3"/>
<line x1="1618.0" y1="1344.0" x2="1618.0" y2="1358.1" stroke="#000" stroke-width="3.0" />
<line x1="1606.7" y1="1344.0" x2="1629.3" y2="1344.0" stroke="#000" stroke-width="3.0" />
<line x1="1618.0" y1="1471.8" x2="1618.0" y2="1473.4" stroke="#000" stroke-width="3.0" />
<line x1="1606.7" y1="1473.4" x2="1629.3" y2="1473.4" stroke="#000" stroke-width="3.0" />
<rect x="1600.4" y="1358.1" width="35.2" height="113.7" fill="#ff8080" stroke="#000" stroke-width="3.3"/>
<line x1="1600.4" y1="1443.8" x2="1635.6" y2="1443.8" stroke="#000" stroke-width="3.0" />
<circle cx="1326.1" cy="1406.4" r="7.5" fill="#fff" stroke="#000" stroke-width="3.4"/>
<circle cx="1337.8" cy="1445.6" r="7.5" fill="#fff" stroke="#000" stroke-width="3.4"/>
<circle cx="1329.9" cy="1449.8" r="7.5" fill="#fff" stroke="#000" stroke-width="3.4"/>
<circle cx="1314.0" cy="1453.4" r="7.5" fill="#fff" stroke="#000" stroke-width="3.4"/>
<circle cx="1314.0" cy="1438.0" r="7.5" fill="#fff" stroke="#000" stroke-width="3.4"/>
<circle cx="1329.9" cy="1426.3" r="7.5" fill="#fff" stroke="#000" stroke-width="3.4"/>
<circle cx="1372.4" cy="1444.8" r="7.5" fill="#fff" stroke="#000" stroke-width="3.4"/>
<circle cx="1388.3" cy="1445.6" r="7.5" fill="#fff" stroke="#000" stroke-width="3.4"/>
<circle cx="1396.5" cy="1437.4" r="7.5" fill="#fff" stroke="#000" stroke-width="3.4"/>
<circle cx="1380.2" cy="1437.7" r="7.5" fill="#fff" stroke="#000" stroke-width="3.4"/>
<circle cx="1372.4" cy="1426.3" r="7.5" fill="#fff" stroke="#000" stroke-width="3.4"/>
<circle cx="1455.3" cy="1246.1" r="7.5" fill="#fff" stroke="#000" stroke-width="3.4"/>
<circle cx="1430.8" cy="1260.3" r="7.5" fill="#fff" stroke="#000" stroke-width="3.4"/>
<circle cx="1430.8" cy="1284.2" r="7.5" fill="#fff" stroke="#000" stroke-width="3.4"/>
<circle cx="1455.3" cy="1285.3" r="7.5" fill="#fff" stroke="#000" stroke-width="3.4"/>
<circle cx="1430.8" cy="1300.2" r="7.5" fill="#fff" stroke="#000" stroke-width="3.4"/>
<circle cx="1494.5" cy="1443.7" r="7.5" fill="#fff" stroke="#000" stroke-width="3.4"/>
<circle cx="1507.3" cy="1443.7" r="7.5" fill="#fff" stroke="#000" stroke-width="3.4"/>
<circle cx="1489.5" cy="1424.2" r="7.5" fill="#fff" stroke="#000" stroke-width="3.4"/>
<circle cx="1513.8" cy="1427.7" r="7.5" fill="#fff" stroke="#000" stroke-width="3.4"/>
<circle cx="1500.6" cy="1419.2" r="7.5" fill="#fff" stroke="#000" stroke-width="3.4"/>
<circle cx="1559.7" cy="1385.0" r="7.5" fill="#fff" stroke="#000" stroke-width="3.4"/>
<circle cx="1548.0" cy="1419.6" r="7.5" fill="#fff" stroke="#000" stroke-width="3.4"/>
<circle cx="1572.2" cy="1426.7" r="7.5" fill="#fff" stroke="#000" stroke-width="3.4"/>
<circle cx="1559.7" cy="1457.4" r="7.5" fill="#fff" stroke="#000" stroke-width="3.4"/>
<circle cx="1617.8" cy="1344.0" r="7.5" fill="#fff" stroke="#000" stroke-width="3.4"/>
<circle cx="1617.8" cy="1367.2" r="7.5" fill="#fff" stroke="#000" stroke-width="3.4"/>
<circle cx="1617.8" cy="1443.8" r="7.5" fill="#fff" stroke="#000" stroke-width="3.4"/>
<circle cx="1629.9" cy="1464.5" r="7.5" fill="#fff" stroke="#000" stroke-width="3.4"/>
<circle cx="1606.0" cy="1473.4" r="7.5" fill="#fff" stroke="#000" stroke-width="3.4"/>
<line x1="1271.2" y1="1185.5" x2="1287.2" y2="1185.5" stroke="#000" stroke-width="3.4" />
<text transform="translate(1253.4,1195.7)" font-size="28.2" text-anchor="end" fill="#000">1.5×10</text>
<text transform="translate(1264.2,1184.5)" font-size="20" text-anchor="end" fill="#000">7</text>
<line x1="1271.2" y1="1309.5" x2="1287.2" y2="1309.5" stroke="#000" stroke-width="3.4" />
<text transform="translate(1253.4,1319.7)" font-size="28.2" text-anchor="end" fill="#000">1.0×10</text>
<text transform="translate(1264.2,1308.5)" font-size="20" text-anchor="end" fill="#000">7</text>
<line x1="1271.2" y1="1433.6" x2="1287.2" y2="1433.6" stroke="#000" stroke-width="3.4" />
<text transform="translate(1253.4,1443.8)" font-size="28.2" text-anchor="end" fill="#000">5.0×10</text>
<text transform="translate(1264.2,1432.6)" font-size="20" text-anchor="end" fill="#000">6</text>
<text transform="translate(1265.3,1566.9)" font-size="28.2" text-anchor="end" fill="#000">0.0</text>
<line x1="1325.6" y1="1557.0" x2="1325.6" y2="1573.5" stroke="#000" stroke-width="3.4" />
<text transform="translate(1330.8,1597.5) rotate(-45)" font-size="27.5" text-anchor="end" fill="#000">D1</text>
<line x1="1384.1" y1="1557.0" x2="1384.1" y2="1573.5" stroke="#000" stroke-width="3.4" />
<text transform="translate(1389.3,1597.5) rotate(-45)" font-size="27.5" text-anchor="end" fill="#000">D4</text>
<line x1="1442.6" y1="1557.0" x2="1442.6" y2="1573.5" stroke="#000" stroke-width="3.4" />
<text transform="translate(1447.8,1597.5) rotate(-45)" font-size="27.5" text-anchor="end" fill="#000">D7</text>
<line x1="1501.2" y1="1557.0" x2="1501.2" y2="1573.5" stroke="#000" stroke-width="3.4" />
<text transform="translate(1506.4,1597.5) rotate(-45)" font-size="27.5" text-anchor="end" fill="#000">D28</text>
<line x1="1559.7" y1="1557.0" x2="1559.7" y2="1573.5" stroke="#000" stroke-width="3.4" />
<text transform="translate(1564.9,1597.5) rotate(-45)" font-size="27.5" text-anchor="end" fill="#000">Controls</text>
<line x1="1618.0" y1="1557.0" x2="1618.0" y2="1573.5" stroke="#000" stroke-width="3.4" />
<text transform="translate(1623.2,1597.5) rotate(-45)" font-size="27.5" text-anchor="end" fill="#000">Sentinels</text>
<text transform="translate(1384.3,1214.9)" font-size="29.6" text-anchor="middle" fill="#000">0.0238</text>
<line x1="1325.3" y1="1234.7" x2="1442.9" y2="1234.7" stroke="#000" stroke-width="2.0" />
<text transform="translate(37.0,1947.0) rotate(-90)" font-size="30.2" text-anchor="middle" fill="#000">Abundance</text>
<text transform="translate(368.4,1739.1)" font-size="35.0" text-anchor="middle" fill="#000">Cytidine</text>
<path d="M183.5,2147.5 V1775.9 H554.0 V2151.0" fill="none" stroke="#000" stroke-width="3.4" stroke-linejoin="miter"/>
<line x1="167.5" y1="2147.5" x2="555.7" y2="2147.5" stroke="#000" stroke-width="3.4" />
<line x1="222.0" y1="1865.7" x2="222.0" y2="1879.0" stroke="#000" stroke-width="3.0" />
<line x1="210.7" y1="1865.7" x2="233.3" y2="1865.7" stroke="#000" stroke-width="3.0" />
<line x1="222.0" y1="1999.5" x2="222.0" y2="2002.1" stroke="#000" stroke-width="3.0" />
<line x1="210.7" y1="2002.1" x2="233.3" y2="2002.1" stroke="#000" stroke-width="3.0" />
<rect x="204.4" y="1879.0" width="35.2" height="120.5" fill="#a00000" stroke="#000" stroke-width="3.3"/>
<line x1="204.4" y1="1958.3" x2="239.6" y2="1958.3" stroke="#000" stroke-width="3.0" />
<line x1="280.5" y1="1856.8" x2="280.5" y2="1879.0" stroke="#000" stroke-width="3.0" />
<line x1="269.2" y1="1856.8" x2="291.8" y2="1856.8" stroke="#000" stroke-width="3.0" />
<line x1="280.5" y1="2020.1" x2="280.5" y2="2047.4" stroke="#000" stroke-width="3.0" />
<line x1="269.2" y1="2047.4" x2="291.8" y2="2047.4" stroke="#000" stroke-width="3.0" />
<rect x="262.9" y="1879.0" width="35.2" height="141.1" fill="#a00000" stroke="#000" stroke-width="3.3"/>
<line x1="262.9" y1="1974.3" x2="298.1" y2="1974.3" stroke="#000" stroke-width="3.0" />
<line x1="338.5" y1="2047.4" x2="338.5" y2="2051.5" stroke="#000" stroke-width="3.0" />
<line x1="327.2" y1="2047.4" x2="349.8" y2="2047.4" stroke="#000" stroke-width="3.0" />
<line x1="338.5" y1="2057.0" x2="338.5" y2="2060.6" stroke="#000" stroke-width="3.0" />
<line x1="327.2" y1="2060.6" x2="349.8" y2="2060.6" stroke="#000" stroke-width="3.0" />
<rect x="320.9" y="2051.5" width="35.2" height="5.5" fill="#a00000" stroke="#000" stroke-width="3.3"/>
<line x1="397.5" y1="1884.2" x2="397.5" y2="1932.1" stroke="#000" stroke-width="3.0" />
<line x1="386.2" y1="1884.2" x2="408.8" y2="1884.2" stroke="#000" stroke-width="3.0" />
<line x1="397.5" y1="2064.7" x2="397.5" y2="2090.9" stroke="#000" stroke-width="3.0" />
<line x1="386.2" y1="2090.9" x2="408.8" y2="2090.9" stroke="#000" stroke-width="3.0" />
<rect x="379.9" y="1932.1" width="35.2" height="132.6" fill="#a00000" stroke="#000" stroke-width="3.3"/>
<line x1="379.9" y1="2011.8" x2="415.1" y2="2011.8" stroke="#000" stroke-width="3.0" />
<line x1="455.8" y1="1851.4" x2="455.8" y2="1859.1" stroke="#000" stroke-width="3.0" />
<line x1="444.5" y1="1851.4" x2="467.1" y2="1851.4" stroke="#000" stroke-width="3.0" />
<line x1="455.8" y1="2042.2" x2="455.8" y2="2042.8" stroke="#000" stroke-width="3.0" />
<line x1="444.5" y1="2042.8" x2="467.1" y2="2042.8" stroke="#000" stroke-width="3.0" />
<rect x="438.2" y="1859.1" width="35.2" height="183.1" fill="#000000" stroke="#000" stroke-width="3.3"/>
<line x1="514.5" y1="1889.5" x2="514.5" y2="1909.0" stroke="#000" stroke-width="3.0" />
<line x1="503.2" y1="1889.5" x2="525.8" y2="1889.5" stroke="#000" stroke-width="3.0" />
<line x1="514.5" y1="1997.7" x2="514.5" y2="2015.3" stroke="#000" stroke-width="3.0" />
<line x1="503.2" y1="2015.3" x2="525.8" y2="2015.3" stroke="#000" stroke-width="3.0" />
<rect x="496.9" y="1909.0" width="35.2" height="88.7" fill="#ff8080" stroke="#000" stroke-width="3.3"/>
<line x1="496.9" y1="1966.5" x2="532.1" y2="1966.5" stroke="#000" stroke-width="3.0" />
<circle cx="222.7" cy="1865.7" r="7.5" fill="#fff" stroke="#000" stroke-width="3.4"/>
<circle cx="222.7" cy="1881.0" r="7.5" fill="#fff" stroke="#000" stroke-width="3.4"/>
<circle cx="222.7" cy="1935.2" r="7.5" fill="#fff" stroke="#000" stroke-width="3.4"/>
<circle cx="222.7" cy="1983.3" r="7.5" fill="#fff" stroke="#000" stroke-width="3.4"/>
<circle cx="210.2" cy="2002.1" r="7.5" fill="#fff" stroke="#000" stroke-width="3.4"/>
<circle cx="234.4" cy="1998.2" r="7.5" fill="#fff" stroke="#000" stroke-width="3.4"/>
<circle cx="280.8" cy="1856.8" r="7.5" fill="#fff" stroke="#000" stroke-width="3.4"/>
<circle cx="280.8" cy="1896.0" r="7.5" fill="#fff" stroke="#000" stroke-width="3.4"/>
<circle cx="280.8" cy="1974.3" r="7.5" fill="#fff" stroke="#000" stroke-width="3.4"/>
<circle cx="280.8" cy="1998.2" r="7.5" fill="#fff" stroke="#000" stroke-width="3.4"/>
<circle cx="280.8" cy="2047.4" r="7.5" fill="#fff" stroke="#000" stroke-width="3.4"/>
<circle cx="333.1" cy="2047.4" r="7.5" fill="#fff" stroke="#000" stroke-width="3.4"/>
<circle cx="326.7" cy="2054.5" r="7.5" fill="#fff" stroke="#000" stroke-width="3.4"/>
<circle cx="344.9" cy="2052.7" r="7.5" fill="#fff" stroke="#000" stroke-width="3.4"/>
<circle cx="338.5" cy="2055.2" r="7.5" fill="#fff" stroke="#000" stroke-width="3.4"/>
<circle cx="351.0" cy="2060.6" r="7.5" fill="#fff" stroke="#000" stroke-width="3.4"/>
<circle cx="398.0" cy="1884.2" r="7.5" fill="#fff" stroke="#000" stroke-width="3.4"/>
<circle cx="398.0" cy="1975.0" r="7.5" fill="#fff" stroke="#000" stroke-width="3.4"/>
<circle cx="398.0" cy="2012.5" r="7.5" fill="#fff" stroke="#000" stroke-width="3.4"/>
<circle cx="398.0" cy="2045.6" r="7.5" fill="#fff" stroke="#000" stroke-width="3.4"/>
<circle cx="398.0" cy="2090.9" r="7.5" fill="#fff" stroke="#000" stroke-width="3.4"/>
<circle cx="456.8" cy="1851.4" r="7.5" fill="#fff" stroke="#000" stroke-width="3.4"/>
<circle cx="456.8" cy="1872.8" r="7.5" fill="#fff" stroke="#000" stroke-width="3.4"/>
<circle cx="444.3" cy="2042.8" r="7.5" fill="#fff" stroke="#000" stroke-width="3.4"/>
<circle cx="468.5" cy="2040.3" r="7.5" fill="#fff" stroke="#000" stroke-width="3.4"/>
<circle cx="514.8" cy="1889.5" r="7.5" fill="#fff" stroke="#000" stroke-width="3.4"/>
<circle cx="514.8" cy="1923.8" r="7.5" fill="#fff" stroke="#000" stroke-width="3.4"/>
<circle cx="514.8" cy="1967.2" r="7.5" fill="#fff" stroke="#000" stroke-width="3.4"/>
<circle cx="514.8" cy="1986.8" r="7.5" fill="#fff" stroke="#000" stroke-width="3.4"/>
<circle cx="514.8" cy="2015.3" r="7.5" fill="#fff" stroke="#000" stroke-width="3.4"/>
<line x1="167.5" y1="1775.9" x2="183.5" y2="1775.9" stroke="#000" stroke-width="3.4" />
<text transform="translate(159.3,1785.8)" font-size="28.2" text-anchor="end" fill="#000">60000</text>
<line x1="167.5" y1="1900.0" x2="183.5" y2="1900.0" stroke="#000" stroke-width="3.4" />
<text transform="translate(159.3,1909.9)" font-size="28.2" text-anchor="end" fill="#000">40000</text>
<line x1="167.5" y1="2024.0" x2="183.5" y2="2024.0" stroke="#000" stroke-width="3.4" />
<text transform="translate(159.3,2033.9)" font-size="28.2" text-anchor="end" fill="#000">20000</text>
<text transform="translate(159.3,2157.4)" font-size="28.2" text-anchor="end" fill="#000">0</text>
<line x1="222.0" y1="2147.5" x2="222.0" y2="2164.0" stroke="#000" stroke-width="3.4" />
<text transform="translate(227.2,2188.0) rotate(-45)" font-size="27.5" text-anchor="end" fill="#000">D1</text>
<line x1="280.5" y1="2147.5" x2="280.5" y2="2164.0" stroke="#000" stroke-width="3.4" />
<text transform="translate(285.7,2188.0) rotate(-45)" font-size="27.5" text-anchor="end" fill="#000">D4</text>
<line x1="338.5" y1="2147.5" x2="338.5" y2="2164.0" stroke="#000" stroke-width="3.4" />
<text transform="translate(343.7,2188.0) rotate(-45)" font-size="27.5" text-anchor="end" fill="#000">D7</text>
<line x1="397.5" y1="2147.5" x2="397.5" y2="2164.0" stroke="#000" stroke-width="3.4" />
<text transform="translate(402.7,2188.0) rotate(-45)" font-size="27.5" text-anchor="end" fill="#000">D28</text>
<line x1="455.8" y1="2147.5" x2="455.8" y2="2164.0" stroke="#000" stroke-width="3.4" />
<text transform="translate(461.0,2188.0) rotate(-45)" font-size="27.5" text-anchor="end" fill="#000">Controls</text>
<line x1="514.5" y1="2147.5" x2="514.5" y2="2164.0" stroke="#000" stroke-width="3.4" />
<text transform="translate(519.7,2188.0) rotate(-45)" font-size="27.5" text-anchor="end" fill="#000">Sentinels</text>
<text transform="translate(280.6,1814.2)" font-size="29.6" text-anchor="middle" fill="#000">0.0403</text>
<line x1="221.6" y1="1834.0" x2="340.3" y2="1834.0" stroke="#000" stroke-width="2.0" />
<text transform="translate(938.5,1742.4)" font-size="35.0" text-anchor="middle" fill="#000">NAD+</text>
<path d="M753.5,2147.8 V1776.6 H1123.5 V2151.3" fill="none" stroke="#000" stroke-width="3.4" stroke-linejoin="miter"/>
<line x1="737.5" y1="2147.8" x2="1125.2" y2="2147.8" stroke="#000" stroke-width="3.4" />
<line x1="792.3" y1="1914.8" x2="792.3" y2="1939.6" stroke="#000" stroke-width="3.0" />
<line x1="781.0" y1="1914.8" x2="803.6" y2="1914.8" stroke="#000" stroke-width="3.0" />
<line x1="792.3" y1="2144.5" x2="792.3" y2="2145.2" stroke="#000" stroke-width="3.0" />
<line x1="781.0" y1="2145.2" x2="803.6" y2="2145.2" stroke="#000" stroke-width="3.0" />
<rect x="774.7" y="1939.6" width="35.2" height="204.9" fill="#a00000" stroke="#000" stroke-width="3.3"/>
<line x1="774.7" y1="2115.7" x2="809.9" y2="2115.7" stroke="#000" stroke-width="3.0" />
<line x1="850.5" y1="1872.1" x2="850.5" y2="1880.7" stroke="#000" stroke-width="3.0" />
<line x1="839.2" y1="1872.1" x2="861.8" y2="1872.1" stroke="#000" stroke-width="3.0" />
<line x1="850.5" y1="1918.9" x2="850.5" y2="1934.1" stroke="#000" stroke-width="3.0" />
<line x1="839.2" y1="1934.1" x2="861.8" y2="1934.1" stroke="#000" stroke-width="3.0" />
<rect x="832.9" y="1880.7" width="35.2" height="38.2" fill="#a00000" stroke="#000" stroke-width="3.3"/>
<line x1="908.9" y1="2132.4" x2="908.9" y2="2134.5" stroke="#000" stroke-width="3.0" />
<line x1="897.6" y1="2132.4" x2="920.2" y2="2132.4" stroke="#000" stroke-width="3.0" />
<line x1="908.9" y1="2143.5" x2="908.9" y2="2144.9" stroke="#000" stroke-width="3.0" />
<line x1="897.6" y1="2144.9" x2="920.2" y2="2144.9" stroke="#000" stroke-width="3.0" />
<rect x="891.3" y="2134.5" width="35.2" height="9.0" fill="#a00000" stroke="#000" stroke-width="3.3"/>
<line x1="967.5" y1="1896.0" x2="967.5" y2="1901.1" stroke="#000" stroke-width="3.0" />
<line x1="956.2" y1="1896.0" x2="978.8" y2="1896.0" stroke="#000" stroke-width="3.0" />
<line x1="967.5" y1="2104.1" x2="967.5" y2="2142.4" stroke="#000" stroke-width="3.0" />
<line x1="956.2" y1="2142.4" x2="978.8" y2="2142.4" stroke="#000" stroke-width="3.0" />
<rect x="949.9" y="1901.1" width="35.2" height="203.0" fill="#a00000" stroke="#000" stroke-width="3.3"/>
<line x1="949.9" y1="1962.6" x2="985.1" y2="1962.6" stroke="#000" stroke-width="3.0" />
<line x1="1026.0" y1="1980.5" x2="1026.0" y2="2005.6" stroke="#000" stroke-width="3.0" />
<line x1="1014.7" y1="1980.5" x2="1037.3" y2="1980.5" stroke="#000" stroke-width="3.0" />
<line x1="1026.0" y1="2121.2" x2="1026.0" y2="2136.3" stroke="#000" stroke-width="3.0" />
<line x1="1014.7" y1="2136.3" x2="1037.3" y2="2136.3" stroke="#000" stroke-width="3.0" />
<rect x="1008.4" y="2005.6" width="35.2" height="115.6" fill="#000000" stroke="#000" stroke-width="3.3"/>
<line x1="1084.7" y1="1881.0" x2="1084.7" y2="1972.6" stroke="#000" stroke-width="3.0" />
<line x1="1073.4" y1="1881.0" x2="1096.0" y2="1881.0" stroke="#000" stroke-width="3.0" />
<line x1="1084.7" y1="2131.9" x2="1084.7" y2="2146.0" stroke="#000" stroke-width="3.0" />
<line x1="1073.4" y1="2146.0" x2="1096.0" y2="2146.0" stroke="#000" stroke-width="3.0" />
<rect x="1067.1" y="1972.6" width="35.2" height="159.3" fill="#ff8080" stroke="#000" stroke-width="3.3"/>
<line x1="1067.1" y1="2117.5" x2="1102.3" y2="2117.5" stroke="#000" stroke-width="3.0" />
<circle cx="792.3" cy="1914.8" r="7.5" fill="#fff" stroke="#000" stroke-width="3.4"/>
<circle cx="792.3" cy="1945.1" r="7.5" fill="#fff" stroke="#000" stroke-width="3.4"/>
<circle cx="792.3" cy="2089.6" r="7.5" fill="#fff" stroke="#000" stroke-width="3.4"/>
<circle cx="792.3" cy="2142.4" r="7.5" fill="#fff" stroke="#000" stroke-width="3.4"/>
<circle cx="780.2" cy="2145.2" r="7.5" fill="#fff" stroke="#000" stroke-width="3.4"/>
<circle cx="804.5" cy="2143.5" r="7.5" fill="#fff" stroke="#000" stroke-width="3.4"/>
<circle cx="838.3" cy="1872.1" r="7.5" fill="#fff" stroke="#000" stroke-width="3.4"/>
<circle cx="863.2" cy="1872.8" r="7.5" fill="#fff" stroke="#000" stroke-width="3.4"/>
<circle cx="850.8" cy="1881.0" r="7.5" fill="#fff" stroke="#000" stroke-width="3.4"/>
<circle cx="850.8" cy="1907.7" r="7.5" fill="#fff" stroke="#000" stroke-width="3.4"/>
<circle cx="850.8" cy="1934.1" r="7.5" fill="#fff" stroke="#000" stroke-width="3.4"/>
<circle cx="902.4" cy="2132.4" r="7.5" fill="#fff" stroke="#000" stroke-width="3.4"/>
<circle cx="896.4" cy="2144.2" r="7.5" fill="#fff" stroke="#000" stroke-width="3.4"/>
<circle cx="914.9" cy="2138.8" r="7.5" fill="#fff" stroke="#000" stroke-width="3.4"/>
<circle cx="921.3" cy="2144.9" r="7.5" fill="#fff" stroke="#000" stroke-width="3.4"/>
<circle cx="908.5" cy="2144.2" r="7.5" fill="#fff" stroke="#000" stroke-width="3.4"/>
<circle cx="955.2" cy="1896.0" r="7.5" fill="#fff" stroke="#000" stroke-width="3.4"/>
<circle cx="979.8" cy="1900.6" r="7.5" fill="#fff" stroke="#000" stroke-width="3.4"/>
<circle cx="967.3" cy="1962.6" r="7.5" fill="#fff" stroke="#000" stroke-width="3.4"/>
<circle cx="967.3" cy="2072.3" r="7.5" fill="#fff" stroke="#000" stroke-width="3.4"/>
<circle cx="967.3" cy="2142.4" r="7.5" fill="#fff" stroke="#000" stroke-width="3.4"/>
<circle cx="1026.1" cy="1980.5" r="7.5" fill="#fff" stroke="#000" stroke-width="3.4"/>
<circle cx="1013.6" cy="2074.0" r="7.5" fill="#fff" stroke="#000" stroke-width="3.4"/>
<circle cx="1037.8" cy="2083.0" r="7.5" fill="#fff" stroke="#000" stroke-width="3.4"/>
<circle cx="1026.1" cy="2136.3" r="7.5" fill="#fff" stroke="#000" stroke-width="3.4"/>
<circle cx="1084.9" cy="1881.0" r="7.5" fill="#fff" stroke="#000" stroke-width="3.4"/>
<circle cx="1084.9" cy="2058.1" r="7.5" fill="#fff" stroke="#000" stroke-width="3.4"/>
<circle cx="1072.7" cy="2116.7" r="7.5" fill="#fff" stroke="#000" stroke-width="3.4"/>
<circle cx="1096.6" cy="2123.5" r="7.5" fill="#fff" stroke="#000" stroke-width="3.4"/>
<circle cx="1084.2" cy="2146.0" r="7.5" fill="#fff" stroke="#000" stroke-width="3.4"/>
<line x1="737.5" y1="1776.6" x2="753.5" y2="1776.6" stroke="#000" stroke-width="3.4" />
<text transform="translate(729.8,1786.5)" font-size="28.2" text-anchor="end" fill="#000">2000000</text>
<line x1="737.5" y1="1869.6" x2="753.5" y2="1869.6" stroke="#000" stroke-width="3.4" />
<text transform="translate(729.8,1879.5)" font-size="28.2" text-anchor="end" fill="#000">1500000</text>
<line x1="737.5" y1="1962.6" x2="753.5" y2="1962.6" stroke="#000" stroke-width="3.4" />
<text transform="translate(729.8,1972.5)" font-size="28.2" text-anchor="end" fill="#000">1000000</text>
<line x1="737.5" y1="2055.5" x2="753.5" y2="2055.5" stroke="#000" stroke-width="3.4" />
<text transform="translate(729.8,2065.4)" font-size="28.2" text-anchor="end" fill="#000">500000</text>
<text transform="translate(729.8,2157.7)" font-size="28.2" text-anchor="end" fill="#000">0</text>
<line x1="792.3" y1="2147.8" x2="792.3" y2="2164.3" stroke="#000" stroke-width="3.4" />
<text transform="translate(797.5,2188.3) rotate(-45)" font-size="27.5" text-anchor="end" fill="#000">D1</text>
<line x1="850.5" y1="2147.8" x2="850.5" y2="2164.3" stroke="#000" stroke-width="3.4" />
<text transform="translate(855.7,2188.3) rotate(-45)" font-size="27.5" text-anchor="end" fill="#000">D4</text>
<line x1="908.9" y1="2147.8" x2="908.9" y2="2164.3" stroke="#000" stroke-width="3.4" />
<text transform="translate(914.1,2188.3) rotate(-45)" font-size="27.5" text-anchor="end" fill="#000">D7</text>
<line x1="967.5" y1="2147.8" x2="967.5" y2="2164.3" stroke="#000" stroke-width="3.4" />
<text transform="translate(972.7,2188.3) rotate(-45)" font-size="27.5" text-anchor="end" fill="#000">D28</text>
<line x1="1026.0" y1="2147.8" x2="1026.0" y2="2164.3" stroke="#000" stroke-width="3.4" />
<text transform="translate(1031.2,2188.3) rotate(-45)" font-size="27.5" text-anchor="end" fill="#000">Controls</text>
<line x1="1084.7" y1="2147.8" x2="1084.7" y2="2164.3" stroke="#000" stroke-width="3.4" />
<text transform="translate(1089.9,2188.3) rotate(-45)" font-size="27.5" text-anchor="end" fill="#000">Sentinels</text>
<text transform="translate(879.8,1823.8)" font-size="29.6" text-anchor="middle" fill="#000">0.0043</text>
<line x1="849.7" y1="1843.2" x2="908.9" y2="1843.2" stroke="#000" stroke-width="2.0" />
</svg>
</body>
</html>
